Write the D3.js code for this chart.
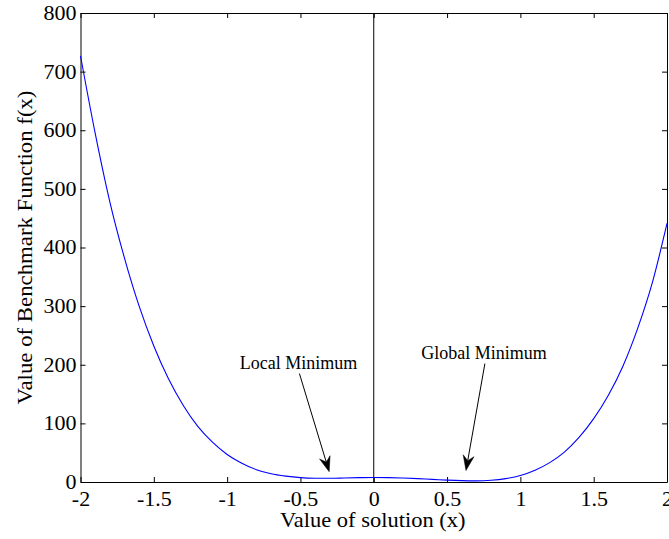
<!DOCTYPE html>
<html>
<head>
<meta charset="utf-8">
<script src="https://cdn.jsdelivr.net/npm/d3@7"></script>
<style>
  html, body { margin: 0; padding: 0; background: #fff; }
  svg { display: block; }
  text { font-family: "Liberation Serif", "Times New Roman", serif; fill: #000; }
</style>
</head>
<body>
<svg id="chart" width="669" height="539"></svg>
<script>
// ---- data ----
const xValues = [-2.0, -1.9, -1.8, -1.7, -1.6, -1.5, -1.4, -1.3, -1.2, -1.1,
                 -1.0, -0.9, -0.8, -0.7, -0.6, -0.5, -0.4, -0.3, -0.2, -0.1,
                  0.0,  0.1,  0.2,  0.3,  0.4,  0.5,  0.6,  0.7,  0.8,  0.9,
                  1.0,  1.1,  1.2,  1.3,  1.4,  1.5,  1.6,  1.7,  1.8,  1.9, 2.0];
const fValues = [727, 595, 478, 382, 300, 232, 176, 131, 95, 68,
                 47, 32, 21, 14, 10, 7.5, 6.5, 6.3, 6.8, 7.4,
                 7.8, 7.5, 6.8, 5.8, 4.5, 3.2, 2.3, 2.0, 2.9, 5.7,
                 11, 20, 33, 51, 76, 108, 148, 198, 262, 340, 441];
const xTicks = [-2, -1.5, -1, -0.5, 0, 0.5, 1, 1.5, 2];
const yTicks = [0, 100, 200, 300, 400, 500, 600, 700, 800];
const annotLabels = ["Local Minimum", "Global Minimum"];
const annotTextX = [-0.513, 0.752];
const annotTextY = [193, 210];
const arrowFromX = [-0.507, 0.758];
const arrowFromY = [185, 202];
const arrowToX = [-0.304, 0.629];
const arrowToY = [17.6, 19.6];
const xLabel = "Value of solution (x)";
const yLabel = "Value of Benchmark Function f(x)";

// ---- layout ----
const mLeft = 80.5, mRight = 667, mTop = 13, mBottom = 482;
const svg = d3.select("#chart");

const x = d3.scaleLinear().domain([-2, 2]).range([mLeft, mRight]);
const y = d3.scaleLinear().domain([0, 800]).range([mBottom, mTop]);

const stretch = 1.1;

// bottom axis with labels
const gx = svg.append("g").attr("transform", `translate(0,${mBottom})`)
  .call(d3.axisBottom(x).tickValues(xTicks).tickSizeInner(-5).tickSizeOuter(0).tickPadding(10)
        .tickFormat(d => String(d)));
// left axis with labels
const gy = svg.append("g").attr("transform", `translate(${mLeft},0)`)
  .call(d3.axisLeft(y).tickValues(yTicks).tickSizeInner(-5).tickSizeOuter(0).tickPadding(4)
        .tickFormat(d => String(d)));
// top and right frame
svg.append("g").attr("transform", `translate(0,${mTop})`)
  .call(d3.axisTop(x).tickValues(xTicks).tickSizeInner(-5).tickSizeOuter(0).tickFormat(""));
svg.append("g").attr("transform", `translate(${mRight},0)`)
  .call(d3.axisRight(y).tickValues(yTicks).tickSizeInner(-5).tickSizeOuter(0).tickFormat(""));

svg.selectAll(".domain, .tick line").attr("stroke", "#000").attr("stroke-width", 1);
gx.selectAll("text").attr("font-size", 20).attr("font-family", "Liberation Serif")
  .attr("transform", `scale(${stretch},1)`);
gy.selectAll("text").attr("font-size", 20).attr("font-family", "Liberation Serif")
  .attr("x", -4 / stretch).attr("transform", `scale(${stretch},1)`);

// vertical line at x = 0
svg.append("line")
  .attr("x1", x(0)).attr("x2", x(0)).attr("y1", y(800)).attr("y2", y(0))
  .attr("stroke", "#000").attr("stroke-width", 1);

// curve
const line = d3.line().x((d, i) => x(xValues[i])).y(d => y(d)).curve(d3.curveMonotoneX);
svg.append("path").datum(fValues)
  .attr("d", line)
  .attr("fill", "none").attr("stroke", "#0000ff").attr("stroke-width", 1.1);

// annotations
annotLabels.forEach((lab, i) => {
  svg.append("text")
    .attr("x", x(annotTextX[i])).attr("y", y(annotTextY[i]))
    .attr("text-anchor", "middle").attr("font-size", 18)
    .text(lab);
  const x1 = x(arrowFromX[i]), y1 = y(arrowFromY[i]);
  const x2 = x(arrowToX[i]), y2 = y(arrowToY[i]);
  const ang = Math.atan2(y2 - y1, x2 - x1);
  const ux = Math.cos(ang), uy = Math.sin(ang);
  const px = -uy, py = ux;
  const L = 15, W = 5.5, notch = 10;
  svg.append("line")
    .attr("x1", x1).attr("y1", y1)
    .attr("x2", x2 - ux * notch).attr("y2", y2 - uy * notch)
    .attr("stroke", "#000").attr("stroke-width", 1);
  const bx = x2 - ux * L, by = y2 - uy * L;
  const nx = x2 - ux * notch, ny = y2 - uy * notch;
  const pts = [[x2, y2], [bx + px * W, by + py * W], [nx, ny], [bx - px * W, by - py * W]];
  svg.append("path")
    .attr("d", "M" + pts.map(p => p.join(",")).join("L") + "Z")
    .attr("fill", "#000").attr("stroke", "#000").attr("stroke-width", 0.5);
});

// axis labels
svg.append("text")
  .attr("transform", `translate(${(mLeft + mRight) / 2 - 1},527) scale(1.125,1)`)
  .attr("text-anchor", "middle").attr("font-size", 20)
  .text(xLabel);
svg.append("text")
  .attr("transform", `translate(32,${(mTop + mBottom) / 2}) rotate(-90) scale(1.14,1)`)
  .attr("text-anchor", "middle").attr("font-size", 20)
  .text(yLabel);
</script>
</body>
</html>
